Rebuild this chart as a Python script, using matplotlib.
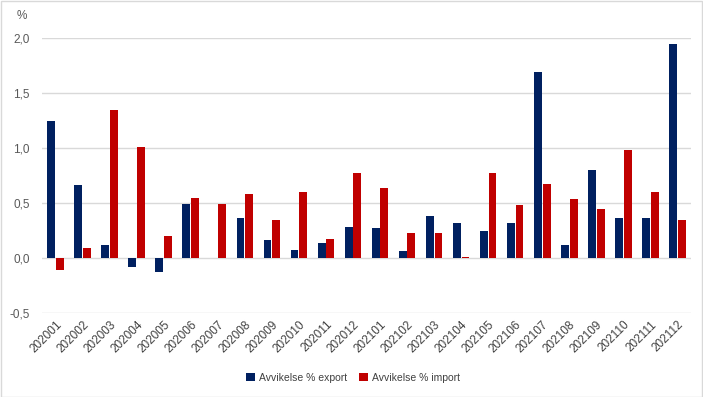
import numpy as np
import matplotlib
matplotlib.use("Agg")
import matplotlib.pyplot as plt
from matplotlib.patches import Rectangle

plt.rcParams["font.family"] = ["Liberation Sans", "DejaVu Sans"]

months = ["202001", "202002", "202003", "202004", "202005", "202006",
          "202007", "202008", "202009", "202010", "202011", "202012",
          "202101", "202102", "202103", "202104", "202105", "202106",
          "202107", "202108", "202109", "202110", "202111", "202112"]
export_dev = [1.25, 0.66, 0.12, -0.08, -0.13, 0.49, 0.0, 0.36, 0.16, 0.07, 0.14, 0.28,
              0.27, 0.06, 0.38, 0.32, 0.25, 0.32, 1.69, 0.12, 0.80, 0.36, 0.36, 1.95]
import_dev = [-0.11, 0.09, 1.35, 1.01, 0.20, 0.55, 0.49, 0.58, 0.35, 0.60, 0.17, 0.77,
              0.64, 0.23, 0.23, 0.01, 0.77, 0.48, 0.67, 0.54, 0.45, 0.98, 0.60, 0.35]

NAVY = "#002060"
RED = "#C00000"
TXT = "#595959"

fig = plt.figure(figsize=(7.03, 3.97), dpi=100)
fig.patches.append(Rectangle((0.001, 0.001), 0.997, 0.996, transform=fig.transFigure,
                             fill=False, edgecolor="#D9D9D9", linewidth=1))
ax = fig.add_axes([42 / 703, (397 - 313) / 397, (691 - 42) / 703, (313 - 38) / 397])

x = np.arange(len(months))
w = 0.29
ax.bar(x - 0.16, export_dev, w, color=NAVY, label="Avvikelse % export", zorder=3)
ax.bar(x + 0.16, import_dev, w, color=RED, label="Avvikelse % import", zorder=3)

ax.set_xlim(-0.5, len(months) - 0.5)
ax.set_ylim(-0.5, 2.0)
yt = np.arange(-0.5, 2.01, 0.5)
ax.set_yticks(yt)
ax.set_yticklabels([f"{v:.1f}".replace(".", ",") for v in yt], color=TXT, fontsize=8.5)
ax.set_xticks(x)
ax.set_xticklabels(months, rotation=45, ha="right", rotation_mode="anchor",
                   fontsize=8.5, color="#404040")
ax.tick_params(axis="y", length=0, pad=9)
ax.tick_params(axis="x", length=0, pad=4)
ax.grid(axis="y", color="#D9D9D9", linewidth=1, zorder=0)
for s in ax.spines.values():
    s.set_visible(False)

fig.text(22 / 703, 1 - 16 / 397, "%", color=TXT, fontsize=8.5, ha="center", va="center")
fig.legend(loc="center", bbox_to_anchor=(353 / 703, 1 - 378 / 397), ncol=2,
           frameon=False, fontsize=7.5, handlelength=0.8, handleheight=0.8,
           handletextpad=0.4, columnspacing=1.2, labelcolor="#404040")

fig.savefig("out.png", dpi=100)
